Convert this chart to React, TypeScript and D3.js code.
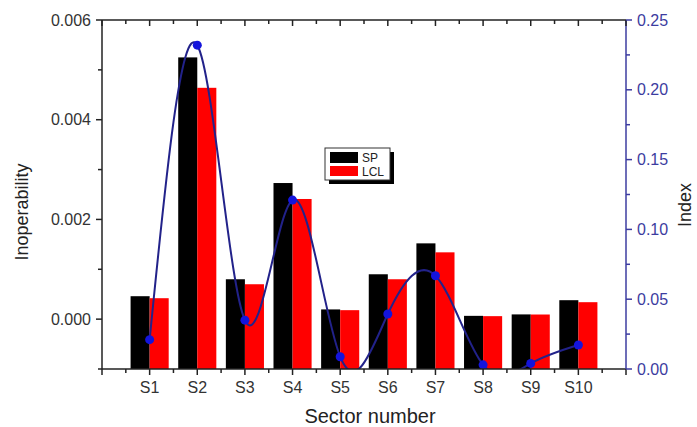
import React, { useEffect, useRef } from 'react';
import * as d3 from 'd3';

const sectors = ['S1', 'S2', 'S3', 'S4', 'S5', 'S6', 'S7', 'S8', 'S9', 'S10'];
const spValues = [0.00046, 0.00525, 0.0008, 0.00273, 0.000195, 0.0009, 0.00152, 0.000066, 0.000095, 0.00038];
const lclValues = [0.00042, 0.00464, 0.0007, 0.00241, 0.00018, 0.0008, 0.00134, 0.00006, 0.000093, 0.00034];
const indexValues = [0.021, 0.232, 0.035, 0.121, 0.0088, 0.0394, 0.0668, 0.003, 0.004, 0.0172];
const leftTicks = [0, 0.002, 0.004, 0.006];
const rightTicks = [0, 0.05, 0.1, 0.15, 0.2, 0.25];

const W = 697;
const H = 427;
const margin = { top: 20, right: 71, bottom: 58, left: 102 };
const FONT = '"Liberation Sans", Arial, sans-serif';

const App: React.FC = () => {
  const svgRef = useRef<SVGSVGElement>(null);

  useEffect(() => {
    const svg = d3.select(svgRef.current);
    svg.selectAll('*').remove();

    const x0 = margin.left;
    const x1 = W - margin.right;
    const y0 = H - margin.bottom;
    const y1 = margin.top;

    // Category positions 1..10 on a linear axis 0..11
    const xScale = d3.scaleLinear().domain([0, 11]).range([x0, x1]);
    const yLeft = d3.scaleLinear().domain([-0.001, 0.006]).range([y0, y1]);
    const yRight = d3.scaleLinear().domain([0, 0.25]).range([y0, y1]);
    const barW = (xScale(1) - xScale(0)) * 0.4;

    const defs = svg.append('defs');
    defs.append('clipPath').attr('id', 'plot-clip')
      .append('rect')
      .attr('x', x0).attr('y', y1)
      .attr('width', x1 - x0).attr('height', y0 - y1);

    // Bars
    const bars = svg.append('g');
    sectors.forEach((s, i) => {
      const cx = xScale(i + 1);
      bars.append('rect')
        .attr('x', cx - barW).attr('y', yLeft(spValues[i]))
        .attr('width', barW).attr('height', y0 - yLeft(spValues[i]))
        .attr('fill', '#000');
      bars.append('rect')
        .attr('x', cx).attr('y', yLeft(lclValues[i]))
        .attr('width', barW).attr('height', y0 - yLeft(lclValues[i]))
        .attr('fill', '#ff0000');
    });

    // Index spline
    const line = d3.line<number>()
      .x((d, i) => xScale(i + 1))
      .y(d => yRight(d))
      .curve(d3.curveNatural);
    svg.append('path')
      .datum(indexValues)
      .attr('clip-path', 'url(#plot-clip)')
      .attr('d', line)
      .attr('fill', 'none')
      .attr('stroke', '#22228a')
      .attr('stroke-width', 2);

    svg.append('g')
      .selectAll('circle')
      .data(indexValues)
      .enter()
      .append('circle')
      .attr('cx', (d, i) => xScale(i + 1))
      .attr('cy', d => yRight(d))
      .attr('r', 4.5)
      .attr('fill', '#1414dc');

    // Frame lines
    const axisColor = '#222';
    const rightColor = '#3c3ca0';
    svg.append('line').attr('x1', x0).attr('x2', x1).attr('y1', y0).attr('y2', y0)
      .attr('stroke', axisColor).attr('stroke-width', 1.5);
    svg.append('line').attr('x1', x0).attr('x2', x1).attr('y1', y1).attr('y2', y1)
      .attr('stroke', axisColor).attr('stroke-width', 1.5);
    svg.append('line').attr('x1', x0).attr('x2', x0).attr('y1', y1).attr('y2', y0)
      .attr('stroke', axisColor).attr('stroke-width', 1.5);
    svg.append('line').attr('x1', x1).attr('x2', x1).attr('y1', y1).attr('y2', y0)
      .attr('stroke', rightColor).attr('stroke-width', 1.5);

    // Bottom & top ticks
    const ticksG = svg.append('g');
    d3.range(0, 11.01, 0.5).forEach(v => {
      const major = v % 1 === 0;
      const x = xScale(v);
      ticksG.append('line').attr('x1', x).attr('x2', x)
        .attr('y1', y0).attr('y2', y0 + (major ? 6 : 4))
        .attr('stroke', axisColor).attr('stroke-width', 1.5);
      ticksG.append('line').attr('x1', x).attr('x2', x)
        .attr('y1', y1).attr('y2', y1 + (major ? 6 : 4))
        .attr('stroke', axisColor).attr('stroke-width', 1.5);
    });

    sectors.forEach((s, i) => {
      svg.append('text')
        .attr('x', xScale(i + 1)).attr('y', y0 + 24)
        .attr('text-anchor', 'middle')
        .style('font-family', FONT).style('font-size', '16px').style('fill', '#333')
        .text(s);
    });

    // Left ticks
    d3.range(-0.001, 0.00601, 0.001).forEach(v => {
      const y = yLeft(v);
      const major = leftTicks.some(t => Math.abs(t - v) < 1e-9);
      ticksG.append('line').attr('x1', x0).attr('x2', x0 - (major ? 6 : 4))
        .attr('y1', y).attr('y2', y)
        .attr('stroke', axisColor).attr('stroke-width', 1.5);
    });
    leftTicks.forEach(v => {
      svg.append('text')
        .attr('x', x0 - 11).attr('y', yLeft(v)).attr('dy', '0.35em')
        .attr('text-anchor', 'end')
        .style('font-family', FONT).style('font-size', '16px').style('fill', '#333')
        .text(d3.format('.3f')(v));
    });

    // Right ticks
    d3.range(0, 0.2501, 0.025).forEach(v => {
      const y = yRight(v);
      const major = rightTicks.some(t => Math.abs(t - v) < 1e-9);
      ticksG.append('line').attr('x1', x1).attr('x2', x1 + (major ? 6 : 4))
        .attr('y1', y).attr('y2', y)
        .attr('stroke', rightColor).attr('stroke-width', 1.5);
    });
    rightTicks.forEach(v => {
      svg.append('text')
        .attr('x', x1 + 11).attr('y', yRight(v)).attr('dy', '0.35em')
        .attr('text-anchor', 'start')
        .style('font-family', FONT).style('font-size', '16px').style('fill', '#3c3ca0')
        .text(d3.format('.2f')(v));
    });

    // Axis titles
    svg.append('text')
      .attr('transform', 'translate(28,212) rotate(-90)')
      .attr('text-anchor', 'middle')
      .style('font-family', FONT).style('font-size', '18px').style('fill', '#222')
      .text('Inoperability');
    svg.append('text')
      .attr('transform', 'translate(691,205) rotate(-90)')
      .attr('text-anchor', 'middle')
      .style('font-family', FONT).style('font-size', '18px').style('fill', '#222')
      .text('Index');
    svg.append('text')
      .attr('x', 370).attr('y', 423)
      .attr('text-anchor', 'middle')
      .style('font-family', FONT).style('font-size', '20px').style('fill', '#222')
      .text('Sector number');

    // Legend
    const lg = svg.append('g').attr('transform', 'translate(325,148)');
    lg.append('rect').attr('x', 4).attr('y', 4).attr('width', 65).attr('height', 32).attr('fill', '#000');
    lg.append('rect').attr('x', 0).attr('y', 0).attr('width', 65).attr('height', 32)
      .attr('fill', '#fff').attr('stroke', '#333').attr('stroke-width', 1);
    lg.append('rect').attr('x', 5).attr('y', 4).attr('width', 28).attr('height', 11).attr('fill', '#000');
    lg.append('rect').attr('x', 5).attr('y', 18).attr('width', 28).attr('height', 10).attr('fill', '#ff0000');
    lg.append('text').attr('x', 37).attr('y', 13.5)
      .style('font-family', FONT).style('font-size', '12px').style('fill', '#222').text('SP');
    lg.append('text').attr('x', 37).attr('y', 27.5)
      .style('font-family', FONT).style('font-size', '12px').style('fill', '#222').text('LCL');
  }, []);

  return (
    <svg
      ref={svgRef}
      width={W}
      height={H}
      style={{ position: 'absolute', left: 0, top: 0, background: '#fff' }}
    />
  );
};

export default App;
